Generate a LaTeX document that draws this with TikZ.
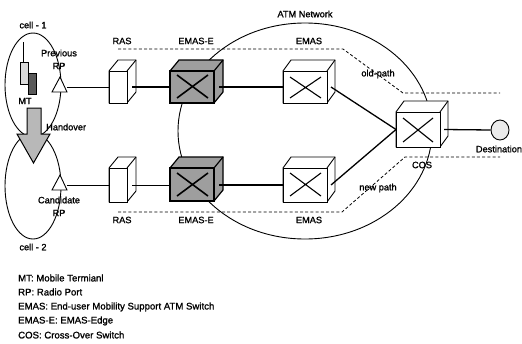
\documentclass[tikz,border=0pt]{standalone}
\usepackage{fontspec}
\usetikzlibrary{shapes.geometric}
\setmainfont[FakeBold=1.2]{Liberation Sans}
\tikzset{
  lbl/.style={font=\fontsize{9.2}{10}\selectfont, inner sep=0pt, text=black},
  legend/.style={lbl, anchor=west, font=\fontsize{9.6}{10}\selectfont},
  link/.style={draw=black, line width=1.3pt},
  thinlink/.style={draw=black, line width=0.9pt},
  dashline/.style={draw=black, line width=0.8pt, dash pattern=on 3pt off 2.2pt},
  curve/.style={draw=black, line width=0.9pt},
  swcross/.style={draw=black, line width=1.1pt},
}
\newcommand{\swbox}[8]{% name, x, y, w, h, fill, border width, depth-x
  \filldraw[fill=#6, draw=black, line width=#7] (#2,#3) -- ++(#8,-11) -- ++(#4,0) -- ++(0,#5) -- ++(-#8,11) -- ++(-#4,0) -- cycle;
  \draw[draw=black, line width=#7] (#2+#4,#3) -- ++(#8,-11);
  \node[draw=black, fill=#6, line width=#7, minimum width=#4 pt, minimum height=#5 pt, inner sep=0pt, outer sep=0pt, anchor=north west] (#1) at (#2,#3) {};
}
\begin{document}
\begin{tikzpicture}[x=1pt,y=-1pt]
\useasboundingbox (0,0) rectangle (522,343);
% cells
\draw[curve] (33,85) ellipse [x radius=28, y radius=52];
\draw[curve] (33,186) ellipse [x radius=28, y radius=53];
% network cloud
\draw[curve] (305,131) ellipse [x radius=127, y radius=108];
% paths
\coordinate (oa) at (118,49); \coordinate (ob) at (343,49); \coordinate (oc) at (403,93); \coordinate (od) at (500,93);
\coordinate (na) at (118,212); \coordinate (nb) at (342,212); \coordinate (nc) at (405,157); \coordinate (nd) at (500,157);
\draw[dashline] (oa) -- (ob) -- (oc) -- (od);
\draw[dashline] (na) -- (nb) -- (nc) -- (nd);
% boxes
\swbox{rasT}{109}{71}{18}{32}{white}{0.9pt}{9}
\swbox{rasB}{109}{168}{18}{34}{white}{0.9pt}{9}
\swbox{eeT}{170}{71}{44}{32}{black!38}{1.2pt}{9}
\swbox{eeB}{170}{168}{44}{33}{black!38}{1.2pt}{9}
\swbox{emT}{283}{71}{44}{32}{white}{0.9pt}{8}
\swbox{emB}{283}{168}{44}{34}{white}{0.9pt}{8}
\swbox{cos}{396}{112}{44}{35}{white}{0.9pt}{8}
% crosses
\draw[swcross, line width=1.6pt] (177,75) -- (208,98) (177,98) -- (208,75);
\draw[swcross, line width=1.6pt] (177,173) -- (208,196) (177,196) -- (208,173);
\draw[swcross] (290,77) -- (321,98) (290,98) -- (321,77);
\draw[swcross] (290,173) -- (321,196) (290,196) -- (321,173);
\draw[swcross] (403,118) -- (433,142) (403,142) -- (433,118);
% radio ports
\coordinate (rp1) at (67,87); \coordinate (rp2) at (67,185);
\filldraw[fill=white, draw=black, line width=0.9pt] (60,77) -- (67,92) -- (52,92) -- cycle;
\filldraw[fill=white, draw=black, line width=0.9pt] (60,175) -- (67,190) -- (52,190) -- cycle;
% destination
\node[draw=black, fill=black!8, line width=0.9pt, ellipse, minimum width=18pt, minimum height=20pt, inner sep=0pt] (dest) at (500,130) {};
% links
\draw[thinlink] (rp1) -- (rasT.west |- rp1);
\draw[thinlink] (rp2) -- (rasB.west |- rp2);
\draw[link] ([xshift=5pt]rasT.east |- rp1) -- (eeT.west |- rp1);
\draw[thinlink] ([xshift=5pt]rasB.east |- rp2) -- (eeB.west |- rp2);
\draw[link] ([xshift=5pt]eeT.east |- rp1) -- (emT.west |- rp1);
\draw[link] ([xshift=5pt]eeB.east |- rp2) -- (emB.west |- rp2);
\draw[link] ([xshift=4pt]emT.east |- rp1) -- (cos.west);
\draw[link] ([xshift=4pt]emB.east |- rp2) -- (cos.west);
\draw[link] ([xshift=4pt]cos.east) -- (dest.west);
% mobile terminal
\draw[line width=0.7pt] (23.5,42) -- (23.5,62);
\filldraw[fill=black!65, draw=black, line width=0.9pt] (28,73) rectangle (36,94);
\filldraw[fill=black!15, draw=black, line width=0.9pt] (20,62) rectangle (28,84);
% handover arrow
\filldraw[fill=black!28, draw=black, line width=1pt] (27,108) -- (41,108) -- (41,134) -- (50,134) -- (33.5,163) -- (17,134) -- (27,134) -- cycle;
% labels
\node[lbl] (l1) at (33,25) {cell - 1};
\node[lbl] (l2) at (33,247) {cell - 2};
\node[lbl] (l3) at (59,53) {Previous};
\node[lbl] (l4) at (59,66) {RP};
\node[lbl] (l5) at (25,101) {MT};
\node[lbl, anchor=west] (l6) at (46,127) {Handover};
\node[lbl] (l7) at (59,200) {Candidate};
\node[lbl] (l8) at (59,213) {RP};
\node[lbl] (l9) at (122,41) {RAS};
\node[lbl] (l10) at (122,220) {RAS};
\node[lbl] (l11) at (196,41) {EMAS-E};
\node[lbl] (l12) at (196,220) {EMAS-E};
\node[lbl] (l13) at (309,41) {EMAS};
\node[lbl] (l14) at (309,220) {EMAS};
\node[lbl] (l15) at (305,14) {ATM Network};
\node[lbl] (l16) at (378,74) {old-path};
\node[lbl] (l17) at (378,188) {new path};
\node[lbl] (l18) at (422,165) {COS};
\node[lbl] (l19) at (499,149) {Destination};
% legend
\node[legend] (g1) at (18,278) {MT: Mobile Termianl};
\node[legend] (g2) at (18,292) {RP: Radio Port};
\node[legend] (g3) at (18,307) {EMAS: End-user Mobility Support ATM Switch};
\node[legend] (g4) at (18,321) {EMAS-E: EMAS-Edge};
\node[legend] (g5) at (18,335) {COS: Cross-Over Switch};
\end{tikzpicture}
\end{document}
